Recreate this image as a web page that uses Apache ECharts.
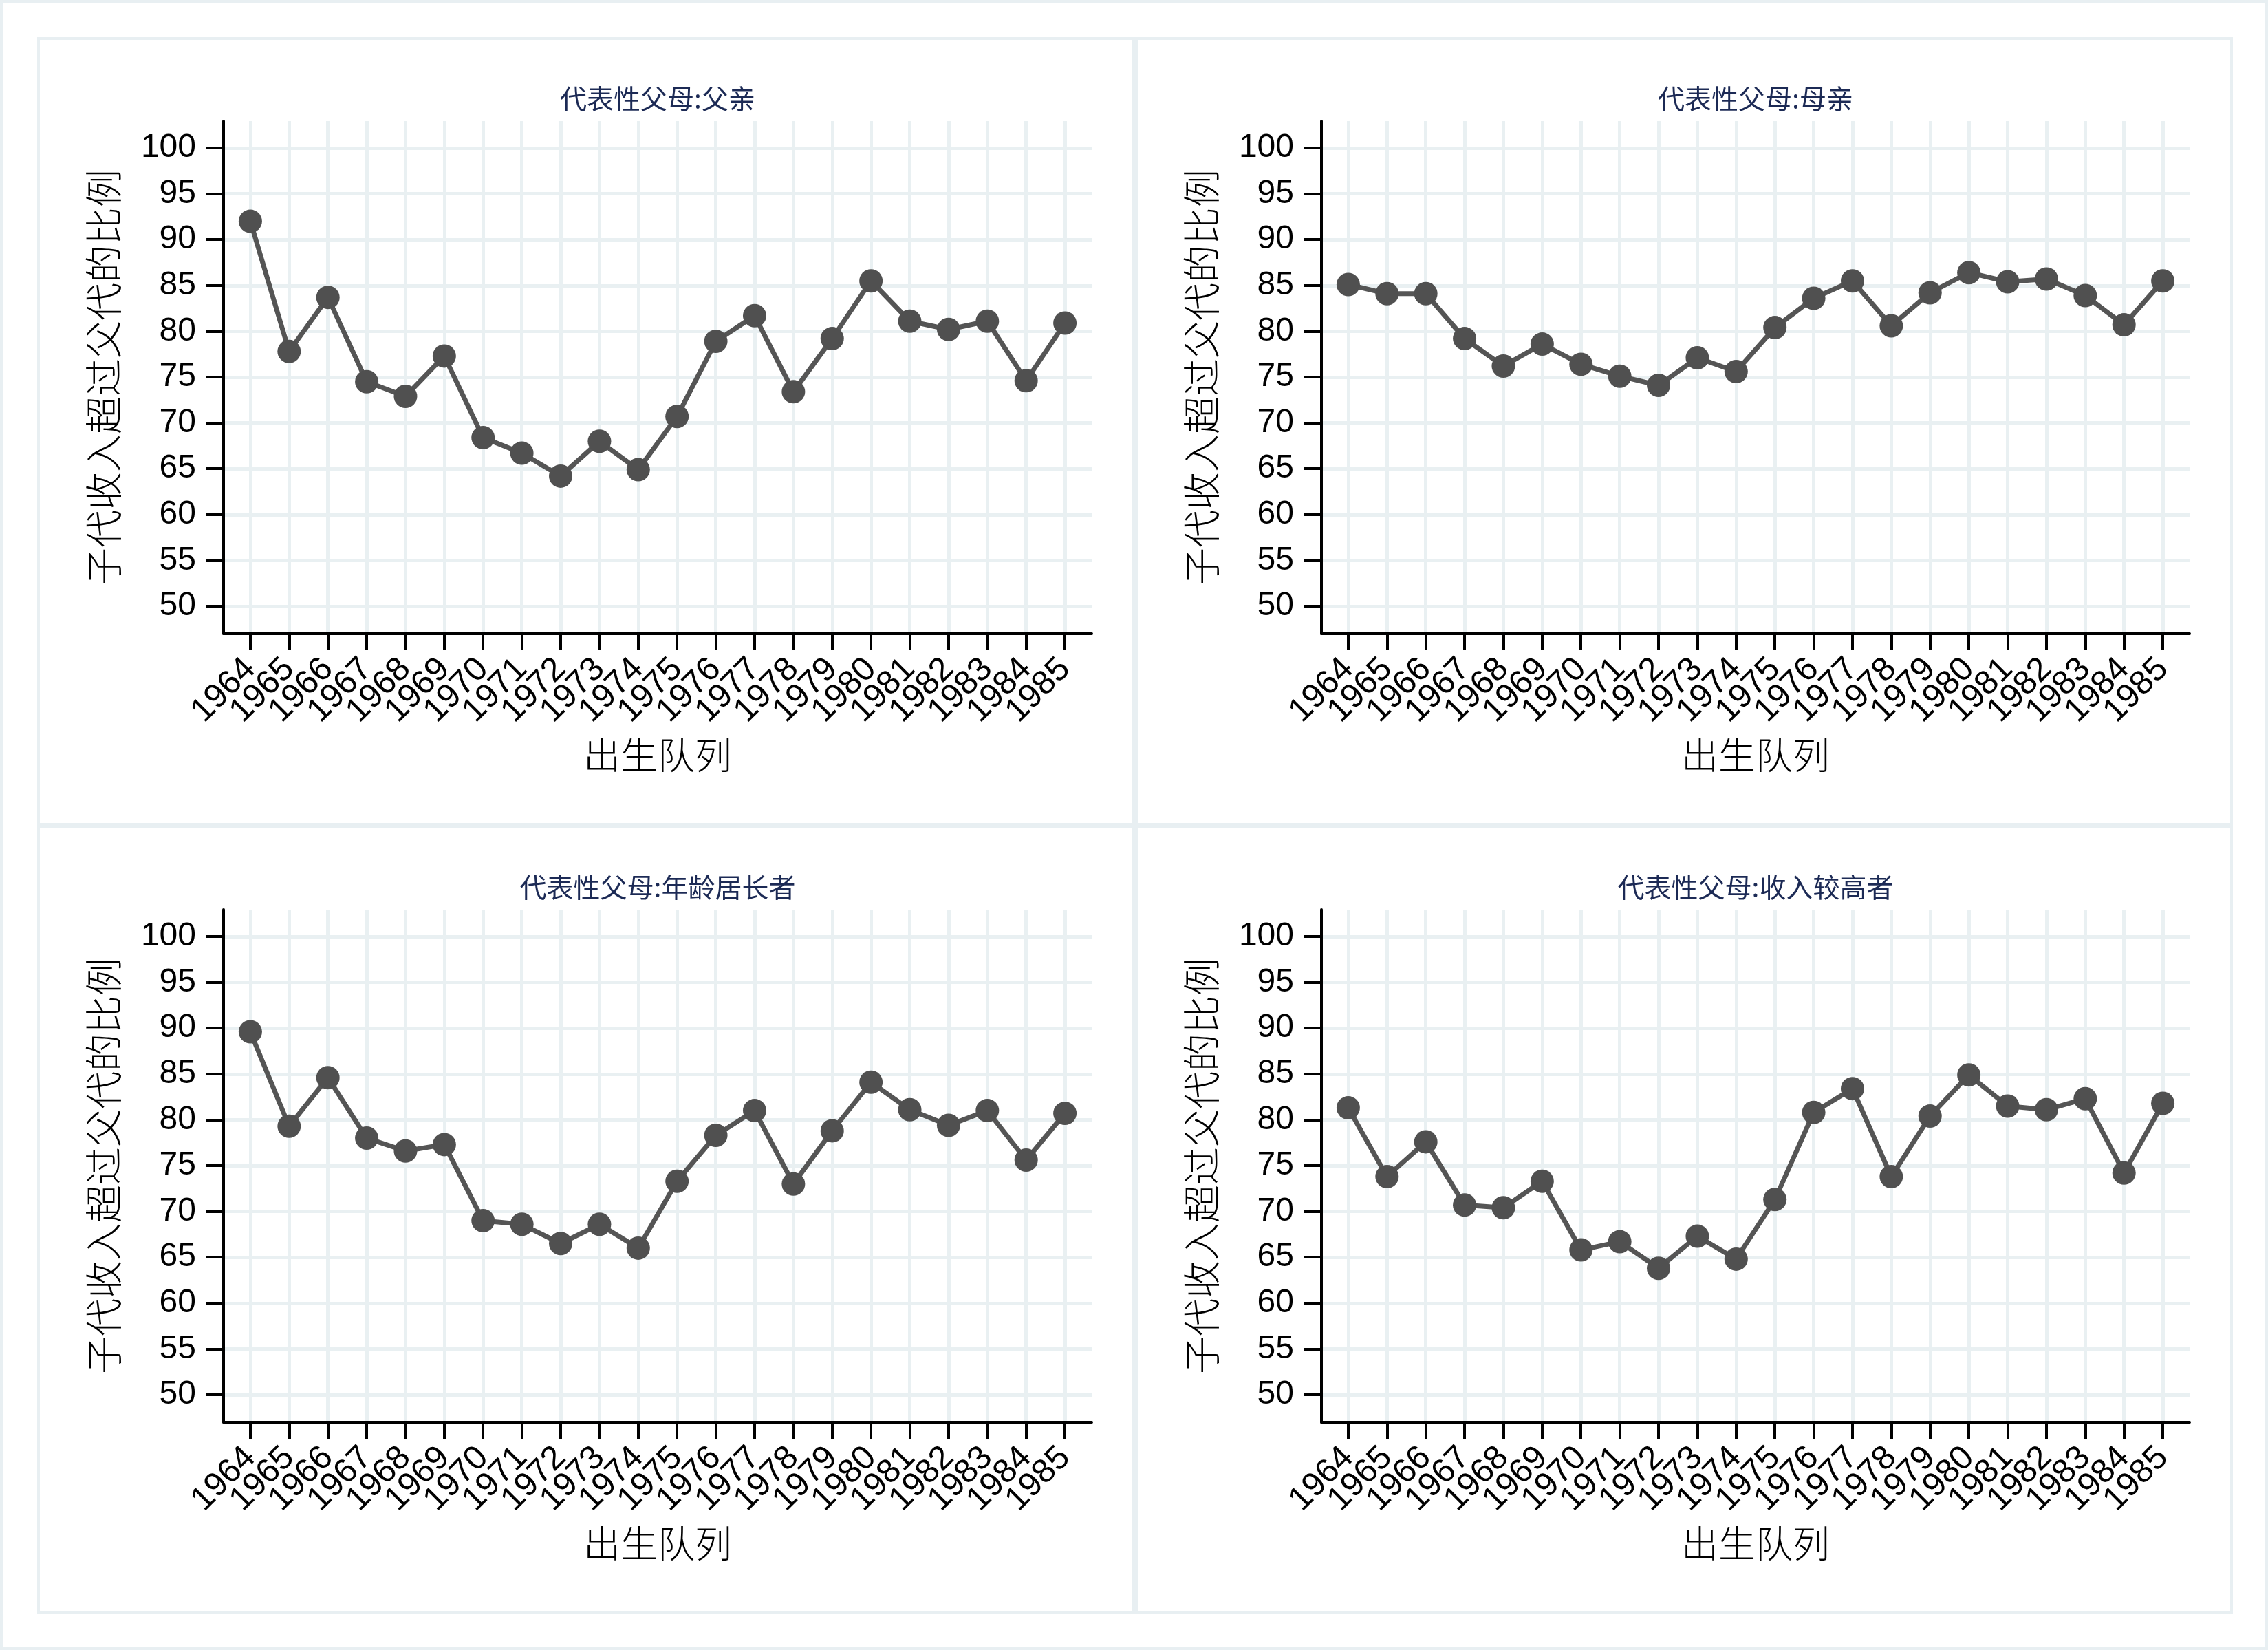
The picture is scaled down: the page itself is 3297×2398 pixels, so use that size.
<!DOCTYPE html>
<html>
<head>
<meta charset="utf-8">
<script src="https://cdn.jsdelivr.net/npm/echarts@6/dist/echarts.min.js"></script>
<style>
html,body{margin:0;padding:0;background:#ffffff;}
#chart{width:3297px;height:2398px;}
</style>
</head>
<body>
<div id="chart"></div>
<script>
// ---- data ----
const years = [1964,1965,1966,1967,1968,1969,1970,1971,1972,1973,1974,1975,1976,1977,1978,1979,1980,1981,1982,1983,1984,1985];
const fatherVals = [92.0,77.8,83.7,74.5,72.9,77.3,68.4,66.7,64.2,68.0,64.9,70.7,78.9,81.7,73.4,79.2,85.5,81.1,80.2,81.1,74.6,80.9];
const motherVals = [85.1,84.1,84.1,79.2,76.2,78.6,76.4,75.1,74.1,77.1,75.6,80.4,83.6,85.5,80.6,84.2,86.4,85.4,85.7,83.9,80.7,85.5];
const elderVals  = [89.6,79.3,84.6,78.0,76.6,77.3,69.0,68.6,66.5,68.6,66.0,73.3,78.3,81.0,73.0,78.8,84.1,81.1,79.4,81.0,75.6,80.7];
const higherVals = [81.3,73.8,77.6,70.7,70.4,73.3,65.8,66.7,63.8,67.3,64.8,71.3,80.8,83.4,73.8,80.4,84.9,81.5,81.1,82.3,74.2,81.8];
const yTicks = [50,55,60,65,70,75,80,85,90,95,100];
const panelTitles = ['代表性父母:父亲','代表性父母:母亲','代表性父母:年龄居长者','代表性父母:收入较高者'];
const yAxisTitle = '子代收入超过父代的比例';
const xAxisTitle = '出生队列';

// ---- layout / style ----
const seriesVals = [fatherVals, motherVals, elderVals, higherVals];
// labels are split over two overlaid axes so that ECharts never drops any as "overlapping"
const evenYears = years.filter((y, j) => j % 2 === 0);
const oddYears = years.filter((y, j) => j % 2 === 1);
const PANEL_X0 = 54, PANEL_Y0 = 54, PANEL_W = 1596, PANEL_H = 1146;
const PLOT_DX = 271, PLOT_DY = 122, PLOT_W = 1262, PLOT_H = 745;
const BORDER = '#e8eff2';
const GRIDC = '#e9f0f2';
const CJK = '"Noto Sans CJK SC", sans-serif';
const LAT = '"Liberation Sans", Arial, sans-serif';
const XMIN = 1963.31, XMAX = 1985.69;

const grids = [], xAxes = [], yAxes = [], series = [], graphics = [];

graphics.push({type:'rect', shape:{x:2, y:2, width:3293, height:2394}, style:{fill:null, stroke:BORDER, lineWidth:4}, silent:true, z:-10});

const xLabelStyle = {show:true, rotate:45, fontSize:49, lineHeight:30, fontFamily:LAT, color:'#000', margin:44,
  showMinLabel:true, showMaxLabel:true, hideOverlap:false, formatter: v => String(v)};

for (let i = 0; i < 4; i++) {
  const col = i % 2, row = Math.floor(i / 2);
  const px = PANEL_X0 + col * PANEL_W, py = PANEL_Y0 + row * PANEL_H;
  graphics.push({type:'rect', shape:{x:px+2, y:py+2, width:PANEL_W-4, height:PANEL_H-4}, style:{fill:null, stroke:BORDER, lineWidth:4}, silent:true, z:-10});
  const gl = px + PLOT_DX, gt = py + PLOT_DY;
  grids.push({left:gl, top:gt, width:PLOT_W, height:PLOT_H, containLabel:false});
  graphics.push({type:'text', x: gl + PLOT_W/2, y: py + 89,
    style:{text: panelTitles[i], align:'center', verticalAlign:'middle', font: '39px ' + CJK, fill:'#1c2a55'}, silent:true});

  xAxes.push({
    gridIndex:i, type:'value', position:'bottom', offset:0, min:XMIN, max:XMAX,
    name: xAxisTitle, nameLocation:'middle', nameGap:149,
    nameTextStyle:{fontFamily:CJK, fontSize:54, fontWeight:300, color:'#000'},
    axisLine:{show:true, onZero:false, lineStyle:{color:'#000', width:4}},
    axisTick:{show:true, customValues: years, length:24, lineStyle:{color:'#000', width:4}},
    axisLabel:Object.assign({customValues: evenYears}, xLabelStyle),
    splitLine:{show:true, lineStyle:{color:GRIDC, width:5}}
  });
  xAxes.push({
    gridIndex:i, type:'value', position:'bottom', offset:0, min:XMIN, max:XMAX,
    axisLine:{show:false, onZero:false},
    axisTick:{show:true, customValues: oddYears, length:24, lineStyle:{color:'#000', width:4}},
    axisLabel:Object.assign({customValues: oddYears}, xLabelStyle),
    splitLine:{show:false}
  });
  yAxes.push({
    gridIndex:i, type:'value', min:47, max:102.93,
    name: yAxisTitle, nameLocation:'middle', nameGap:147, nameRotate:90,
    nameTextStyle:{fontFamily:CJK, fontSize:55, fontWeight:300, color:'#000'},
    axisLine:{show:true, onZero:false, lineStyle:{color:'#000', width:4}},
    axisTick:{show:true, customValues: yTicks, length:25, lineStyle:{color:'#000', width:4}},
    axisLabel:{show:true, customValues: yTicks, fontSize:48, fontFamily:LAT, color:'#000', margin:40,
      showMinLabel:true, showMaxLabel:true, formatter: v => String(v)},
    splitLine:{show:true, lineStyle:{color:GRIDC, width:5}}
  });
  series.push({
    type:'line', xAxisIndex:2*i, yAxisIndex:i,
    data: years.map((y, j) => [y, seriesVals[i][j]]),
    symbol:'circle', symbolSize:34, showSymbol:true,
    lineStyle:{color:'#555555', width:7},
    itemStyle:{color:'#505050', borderWidth:0},
    emphasis:{disabled:true}
  });
}

const chart = echarts.init(document.getElementById('chart'), null, {renderer:'canvas'});
chart.setOption({
  animation:false,
  backgroundColor:'#ffffff',
  grid: grids, xAxis: xAxes, yAxis: yAxes, series: series,
  graphic: graphics
});
</script>
</body>
</html>
